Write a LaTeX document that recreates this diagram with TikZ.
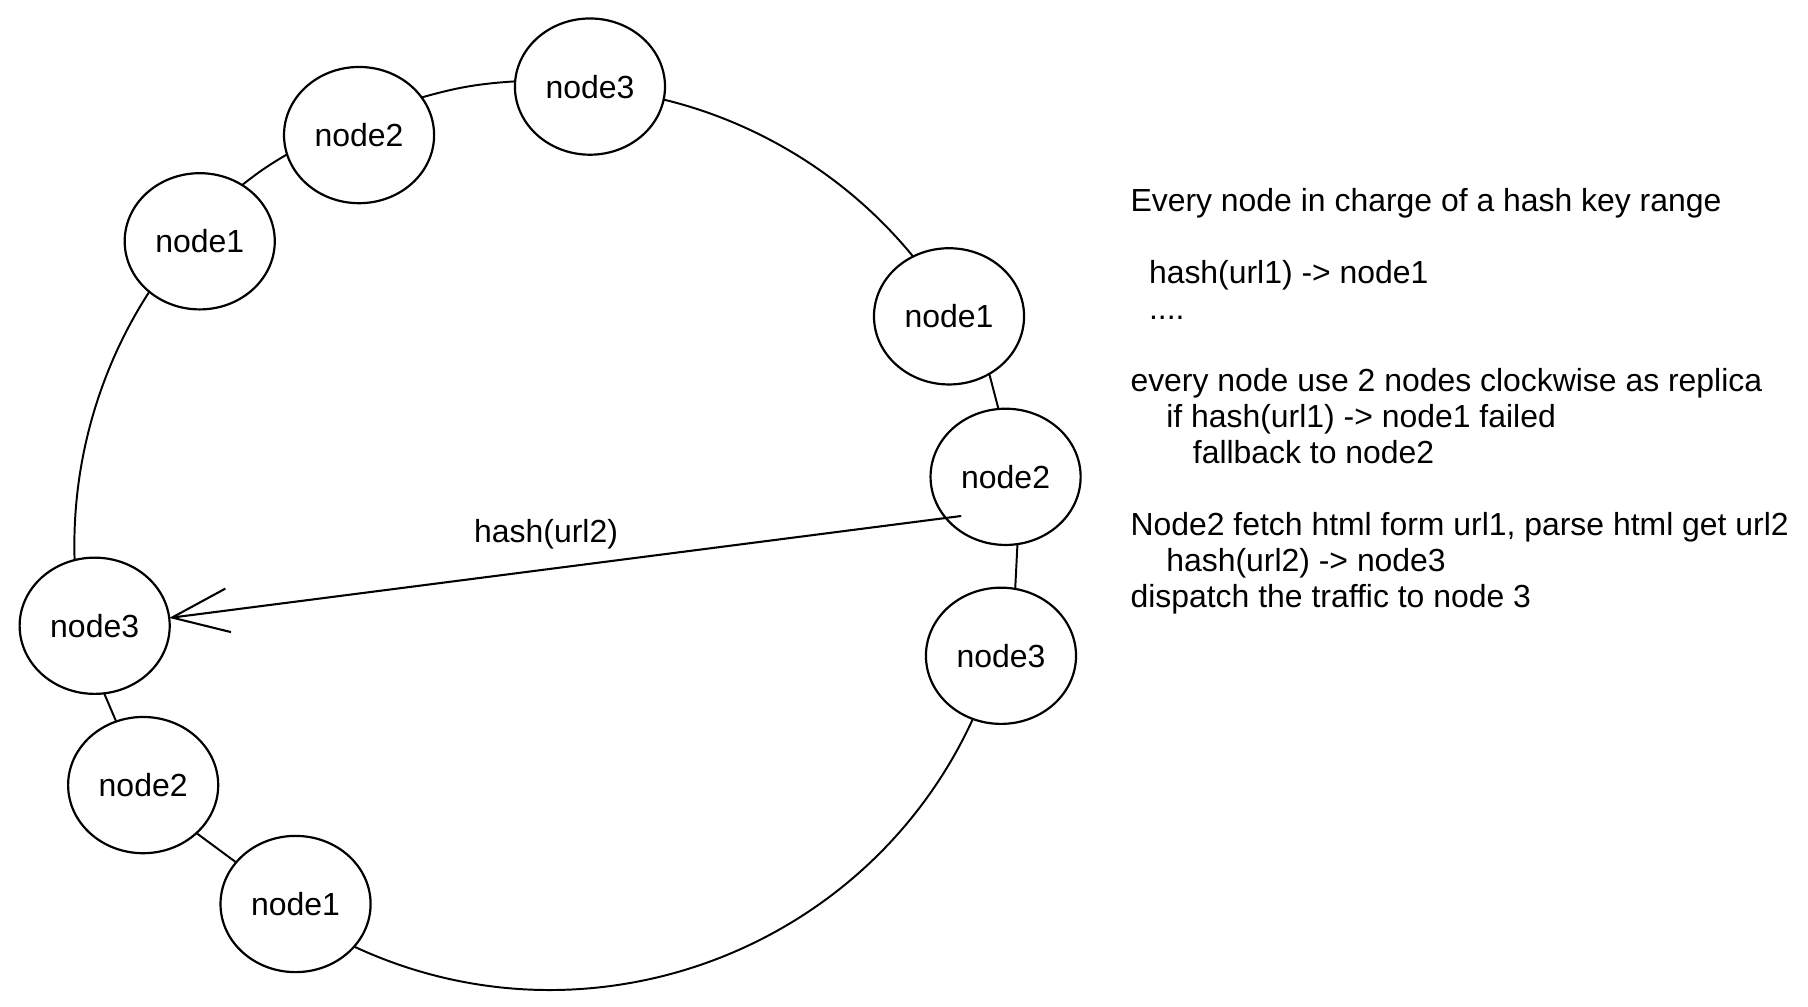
\documentclass[tikz,border=0pt]{standalone}
\usepackage{fontspec}
\setmainfont{Liberation Sans}
\usetikzlibrary{shapes.geometric,arrows.meta,calc}
\begin{document}
\begin{tikzpicture}[x=1pt,y=1pt,
  ringnode/.style={ellipse,draw,line width=1.9pt,minimum width=130pt,minimum height=118pt,inner sep=0pt,outer sep=0pt,font=\fontsize{27.7pt}{31pt}\selectfont},
  link/.style={line width=1.7pt,line cap=round},
  txt/.style={anchor=base west,inner sep=0pt,font=\fontsize{27.65pt}{31pt}\selectfont},
  hasharrow/.style={line width=1.8pt,line cap=round,line join=round,-{Straight Barb[length=49pt,width=38pt]}}]
\useasboundingbox (0,0) rectangle (1566,-872.2);
% ring nodes
\node[ringnode] (n3t) at (511,-75) {node3};
\node[ringnode] (n2t) at (311,-117) {node2};
\node[ringnode] (n1l) at (173,-209) {node1};
\node[ringnode] (n1r) at (822,-274) {node1};
\node[ringnode] (n2r) at (871,-413) {node2};
\node[ringnode] (n3r) at (867,-568) {node3};
\node[ringnode] (n3l) at (82,-542) {node3};
\node[ringnode] (n2b) at (124,-680) {node2};
\node[ringnode] (n1b) at (256,-783) {node1};
% ring connectors (clockwise)
\draw[link] (n3t.-10) to[bend left=18.6,looseness=0.87] (n1r.121);
\draw[link] (n1r.-55) -- (n2r.96);
\draw[link] (n2r.-80) -- (n3r.78);
\draw[link] (n3r.246) to[bend left=45.2,looseness=1.0] (n1b.-36.5);
\draw[link] (n1b.145.5) -- (n2b.-42.4);
\draw[link] (n2b.113.6) -- (n3l.-82);
\draw[link] (n3l.107.8) to[bend left=17.4,looseness=0.87] (n1l.225);
\draw[link] (n1l.53.1) to[bend left=4] (n2t.195.3);
\draw[link] (n2t.31.9) to[bend left=6.1] (n3t.176.5);
% hash arrow
\draw[hasharrow] ($(n2r.center)+(-39,-34)$) -- (n3l.6);
\node[txt,anchor=base] (lbl) at (473,-470) {hash(url2)};
% explanation text
\node[txt] (t1) at (979,-183) {Every node in charge of a hash key range};
\node[txt] (t2) at (995,-245.4) {hash(url1) -> node1};
\node[txt] (t3) at (995,-276.5) {....};
\node[txt] (t4) at (979,-338.9) {every node use 2 nodes clockwise as replica};
\node[txt] (t5) at (1010,-370.1) {if hash(url1) -> node1 failed};
\node[txt] (t6) at (1033,-401.3) {fallback to node2};
\node[txt] (t7) at (979,-463.6) {Node2 fetch html form url1, parse html get url2};
\node[txt] (t8) at (1010,-494.8) {hash(url2) -> node3};
\node[txt] (t9) at (979,-526) {dispatch the traffic to node 3};
\end{tikzpicture}
\end{document}
